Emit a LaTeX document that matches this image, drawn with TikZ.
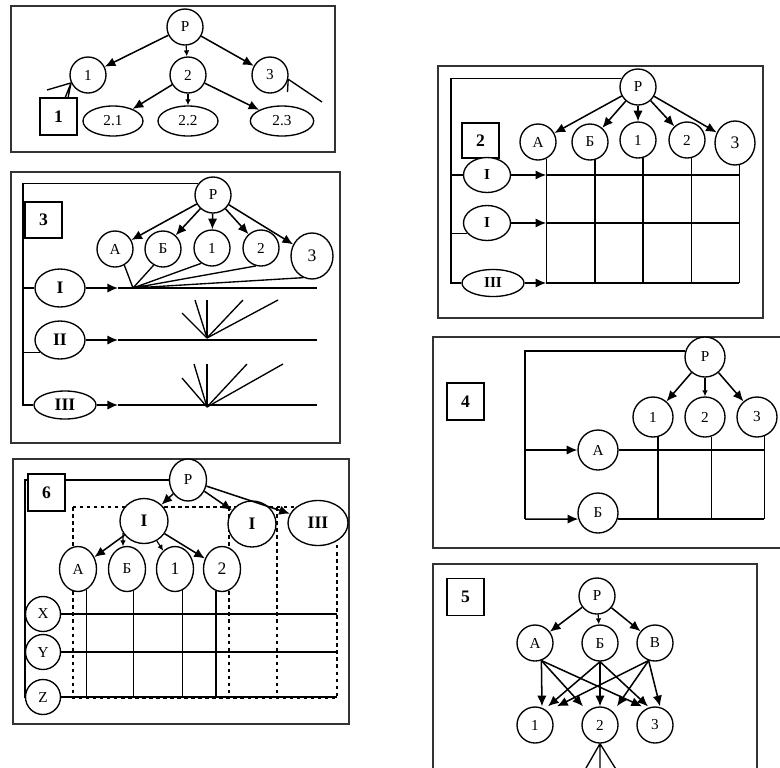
\documentclass[tikz,border=0pt]{standalone}
\usepackage{fontspec}
\setmainfont{Liberation Serif}
\usetikzlibrary{arrows.meta,backgrounds,calc,shapes.geometric}
\newcommand{\bigtext}{\fontsize{15}{17}\selectfont}
\newcommand{\midtext}{\fontsize{13}{15}\selectfont}
\tikzset{%
	every path/.style = {line width=1.15pt},
	elem/.style  = {draw, circle, fill=white, inner sep=0pt, minimum size=10.8mm, font=\midtext}, % element
	leaf/.style  = {draw, ellipse, fill=white, inner sep=0pt, font=\midtext}, % oval element
	rank/.style  = {draw, ellipse, fill=white, inner sep=0pt, font=\bigtext\bfseries}, % I, II, III
	tag/.style   = {draw, rectangle, fill=white, minimum width=11.1mm, minimum height=11.1mm, font=\bigtext\bfseries}, % panel number
	panel/.style = {draw=black!80, line width=1.2pt},
	arrow/.style = {line width=1.3pt, -{Latex[length=3.2mm, width=2.8mm]}},
	minor/.style = {line width=1pt, -{Latex[length=1.8mm, width=1.7mm]}},
}

\begin{document}
\begin{tikzpicture}[x=0.3mm, y=-0.3mm]
	\useasboundingbox (0,0) rectangle (780,767);

	% --- 1 ---
	\node [elem] (p1) at (185,27) {Р};
	\node [elem] (p1a) at (88,75) {1};
	\node [elem] (p1b) at (188,75) {2};
	\node [elem] (p1c) at (270,75) {3};
	\node [leaf, minimum width=18mm, minimum height=9mm] (p1ba) at (113,121) {2.1};
	\node [leaf, minimum width=18mm, minimum height=9mm] (p1bb) at (188,121) {2.2};
	\node [leaf, minimum width=19mm, minimum height=9mm] (p1bc) at (282,121) {2.3};
	\node [tag] (t1) at (58.5,116.5) {1};
	\coordinate (s1a) at (47,90);
	\coordinate (s1b) at (65,98);
	\coordinate (s1c) at (68,98);
	\coordinate (s1d) at (287.5,92);
	\coordinate (s1e) at (322,102);

	\draw[arrow] (p1) -- (p1a);
	\draw[minor] (p1) -- (p1b);
	\draw[arrow] (p1) -- (p1c);
	\draw[arrow] (p1b) -- (p1ba);
	\draw[minor] (p1b) -- (p1bb);
	\draw[arrow] (p1b) -- (p1bc);
	\begin{scope}[on background layer]
		\draw[panel] (11,6) rectangle (335,152);
		\draw (p1a.205) -- (s1a) (p1a.205) -- (s1b) (p1a.205) -- (s1c);
		\draw (p1c.-13) -- (s1d) (p1c.-13) -- (s1e);
	\end{scope}

	% --- 3 ---
	\node [elem] (p3) at (213,195) {Р};
	\node [elem] (a3) at (115,249) {А};
	\node [elem] (b3) at (163,249) {Б};
	\node [elem] (c3) at (212,248) {1};
	\node [elem] (d3) at (261,248) {2};
	\node [leaf, minimum width=12.6mm, minimum height=13.8mm, font=\bigtext] (e3) at (312,256) {3};
	\node [tag, minimum height=10.8mm] (t3) at (43.5,220) {3};
	\node [rank, minimum width=15mm, minimum height=11.4mm] (r3a) at (60,288) {I};
	\node [rank, minimum width=15mm, minimum height=11.4mm] (r3b) at (60,340) {II};
	\node [rank, minimum width=18.6mm, minimum height=8.4mm] (r3c) at (65,405) {III};
	\coordinate (bus3) at (23,405);
	\coordinate (h3) at (118,300);
	\coordinate (k3) at (317,300);
	\coordinate (f3a) at (133,288);
	\coordinate (f3b) at (207,338);
	\coordinate (f3c) at (207,407);

	\foreach \n in {a3,b3,c3,d3,e3}
		\draw[arrow] (p3) -- (\n);
	\begin{scope}[on background layer]
		\draw[panel] (11,172) rectangle (340,443);
		\draw (p3.142) -| (bus3) -- (r3c.west);
		\draw (r3a.west -| bus3) -- (r3a.west);
		\draw (r3b.212 -| bus3) -- (r3b.212);
		\foreach \r in {r3a,r3b,r3c} {
			\draw[arrow] (\r.east) -- (\r.east -| h3);
			\draw (\r.east -| h3) -- (\r.east -| k3);
		}
		\draw (f3a) -- (a3.-60) (f3a) -- (b3.-120) (f3a) -- (c3.-125) (f3a) -- (d3.-106) (f3a) -- (e3.-112);
		\foreach \dx/\dy in {-25/-25,-12/-38,0/-38,36/-38,71/-38}
			\draw (f3b) -- ++(\dx,\dy);
		\foreach \dx/\dy in {-25/-29,-13/-43,0/-43,40/-43,76/-43}
			\draw (f3c) -- ++(\dx,\dy);
	\end{scope}

	% --- 6 ---
	\node [tag] (t6) at (46.5,492.5) {6};
	\node [leaf, minimum width=11.1mm, minimum height=12.6mm] (p6) at (188,480) {Р};
	\node [rank, minimum width=14.4mm, minimum height=13.5mm] (i6) at (144,521) {I};
	\node [rank, minimum width=14.4mm, minimum height=13.8mm] (j6) at (252,524) {I};
	\node [rank, minimum width=18mm, minimum height=13.5mm] (k6) at (318,523) {III};
	\node [leaf, minimum width=11.1mm, minimum height=13.5mm] (a6) at (78,569) {А};
	\node [leaf, minimum width=11.1mm, minimum height=13.5mm] (b6) at (127,569) {Б};
	\node [leaf, minimum width=11.1mm, minimum height=13.5mm, font=\bigtext] (c6) at (175,569) {1};
	\node [leaf, minimum width=11.1mm, minimum height=13.5mm, font=\bigtext] (d6) at (222,569) {2};
	\node [elem, minimum size=10.5mm] (x6) at (43,614) {X};
	\node [elem, minimum size=10.5mm] (y6) at (43,652) {Y};
	\node [elem, minimum size=10.5mm] (z6) at (43,697) {Z};
	\coordinate (bus6) at (25,698);
	\coordinate (e6) at (337,698);

	\draw[arrow] (p6) -- (i6);
	\draw[arrow] (p6) -- (j6);
	\draw[arrow] (p6) -- (k6);
	\draw[arrow] (i6) -- (a6);
	\draw[minor] (i6.210) -- (b6.100);
	\draw[minor] (i6) -- (c6);
	\draw[arrow] (i6) -- (d6);
	\begin{scope}[on background layer]
		\draw[panel] (13,459) rectangle (349,724);
		\draw[dashed, line width=0.9pt] (73,507) rectangle (e6);
		\draw[dashed, line width=0.9pt] (229,507) -- (229,698) (277,507) -- (277,698);
		\draw (p6.west) -| (bus6);
		\foreach \n in {x6,y6,z6}
			\draw (\n.east) -- (\n.east -| e6);
		\foreach \n/\a in {a6/-68,b6/-74,c6/-70,d6/-105}
			\draw (\n.\a) -- (\n.\a |- e6);
	\end{scope}

	% --- 2 ---
	\node [tag, minimum height=10.5mm] (t2) at (480.5,140.5) {2};
	\node [elem] (p2) at (638,87) {Р};
	\node [elem] (a2) at (538,142) {А};
	\node [elem] (b2) at (590,142) {Б};
	\node [elem] (c2) at (638,140) {1};
	\node [elem] (d2) at (687,140) {2};
	\node [leaf, minimum width=12mm, minimum height=13.2mm, font=\bigtext] (e2) at (735,143) {3};
	\node [rank, minimum width=14.1mm, minimum height=10.5mm, font=\midtext\bfseries] (r2a) at (487,175) {I};
	\node [rank, minimum width=14.1mm, minimum height=10.5mm, font=\midtext\bfseries] (r2b) at (487,223) {I};
	\node [rank, minimum width=18.6mm, minimum height=8.1mm, font=\midtext\bfseries] (r2c) at (493,283) {III};
	\coordinate (bus2) at (451,283);
	\coordinate (g2) at (739,283);

	\foreach \n in {a2,b2,c2,d2,e2}
		\draw[arrow] (p2) -- (\n);
	\begin{scope}[on background layer]
		\draw[panel] (438,66) rectangle (763,318);
		\draw (p2.154) -| (bus2) -- (r2c.west);
		\draw (r2a.west -| bus2) -- (r2a.west);
		\draw (r2b.207 -| bus2) -- (r2b.207);
		\foreach \r in {r2a,r2b,r2c} {
			\draw[arrow] (\r.east) -- (\r.east -| a2.-64);
			\draw (\r.east -| a2.-64) -- (\r.east -| g2);
		}
		\foreach \n/\a in {a2/-64,b2/-74,c2/-74,d2/-77,e2/-79}
			\draw (\n.\a) -- (\n.\a |- g2);
	\end{scope}

	% --- 4 ---
	\node [tag] (t4) at (465.5,401.5) {4};
	\node [elem, minimum size=12mm] (p4) at (705,357) {Р};
	\node [elem, minimum size=12mm] (c4) at (653,417) {1};
	\node [elem, minimum size=12mm] (d4) at (705,417) {2};
	\node [elem, minimum size=12mm] (e4) at (757,417) {3};
	\node [elem, minimum size=12mm] (a4) at (598,450) {А};
	\node [elem, minimum size=12mm] (b4) at (598,513) {Б};
	\coordinate (bus4) at (525,519);
	\coordinate (g4) at (764,519);

	\draw[arrow] (p4) -- (c4);
	\draw[minor] (p4) -- (d4);
	\draw[arrow] (p4) -- (e4);
	\begin{scope}[on background layer]
		\draw[panel] (433,337) rectangle (795,548);
		\draw (p4.163) -| (bus4);
		\draw[arrow] (a4.west -| bus4) -- (a4.west);
		\draw[arrow] (bus4) -- (b4.197);
		\draw (a4.east) -- (a4.east -| g4);
		\draw (b4.-17) -- (b4.-17 -| g4);
		\foreach \n/\a in {c4/-76,d4/-72,e4/-69}
			\draw (\n.\a) -- (\n.\a |- g4);
	\end{scope}

	% --- 5 ---
	\node [tag] (t5) at (465.5,597) {5};
	\node [elem] (p5) at (597,596) {Р};
	\node [elem] (a5) at (535,643) {А};
	\node [elem] (b5) at (600,643) {Б};
	\node [elem] (v5) at (655,643) {В};
	\node [elem] (c5) at (535,725) {1};
	\node [elem] (d5) at (600,725) {2};
	\node [elem] (e5) at (655,725) {3};

	\draw[arrow] (p5) -- (a5);
	\draw[minor] (p5) -- (b5);
	\draw[arrow] (p5) -- (v5);
	\foreach \s/\t/\dx in {a5.-70/c5/7, b5.south/c5/13, v5.-110/c5/22,
		a5.-70/d5/-17, b5.south/d5/0, v5.-110/d5/17,
		a5.-70/e5/-13, b5.south/e5/-7, v5.-110/e5/5}
		\draw[arrow] (\s) -- ($(\t.north)+(\dx,0)$);
	\begin{scope}[on background layer]
		\draw[panel] (433,564) rectangle (757,795);
		\draw (d5.south) -- ++(-23,40) (d5.south) -- ++(0,40) (d5.south) -- ++(25,40);
	\end{scope}
\end{tikzpicture}
\end{document}
